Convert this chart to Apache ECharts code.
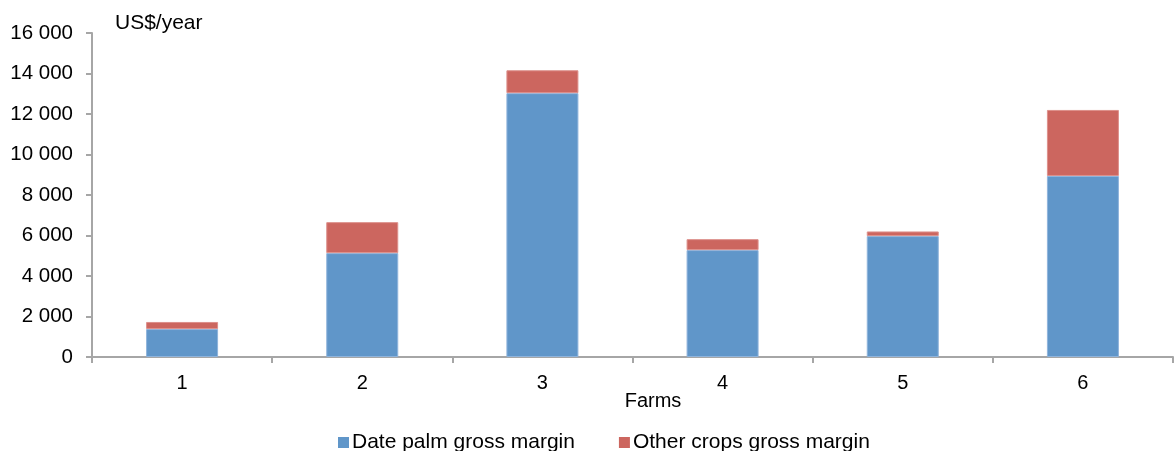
<!DOCTYPE html>
<html>
<head>
<meta charset="utf-8">
<script src="https://cdn.jsdelivr.net/npm/echarts@6/dist/echarts.min.js"></script>
<style>
  html, body { margin: 0; padding: 0; background: #fff; }
  #chart { width: 1175px; height: 451px; }
</style>
</head>
<body>
<div id="chart"></div>
<script>
const farms = ['1', '2', '3', '4', '5', '6'];
const datePalm = [1380, 5130, 13030, 5280, 5970, 8940];
const otherCrops = [350, 1530, 1130, 540, 230, 3260];
const yTicks = { min: 0, max: 16000, interval: 2000 };

const chart = echarts.init(document.getElementById('chart'));
const font = 'Liberation Sans, Arial, sans-serif';
const axisGrey = '#a6a6a6';
// thousands with a space, like the original
const fmt = (v) => String(v).replace(/\B(?=(\d{3})+(?!\d))/g, ' ');

chart.setOption({
  animation: false,
  textStyle: { fontFamily: font, color: '#000' },
  title: {
    text: 'US$/year',
    left: 110, top: 8,
    textStyle: { fontFamily: font, fontSize: 21, fontWeight: 'normal', color: '#000' }
  },
  // axis title sits a bit right of the plot centre in the original
  graphic: [{
    type: 'text', x: 653, y: 401,
    style: { text: 'Farms', font: '20px ' + font, fill: '#000', align: 'center', verticalAlign: 'middle' }
  }],
  grid: { left: 92, right: 2, top: 33, bottom: 94 },
  legend: {
    data: ['Date palm gross margin', 'Other crops gross margin'],
    left: 333, top: 427,
    itemWidth: 11, itemHeight: 11, itemGap: 44,
    icon: 'rect',
    itemStyle: { borderWidth: 0 },
    textStyle: { fontFamily: font, fontSize: 21, color: '#000', padding: [0, 0, 0, -2] }
  },
  xAxis: {
    type: 'category',
    data: farms,
    axisLine: { lineStyle: { color: axisGrey, width: 2 } },
    axisTick: { show: true, length: 6, lineStyle: { color: axisGrey, width: 2 } },
    axisLabel: { fontFamily: font, fontSize: 20, color: '#000', margin: 16 }
  },
  yAxis: {
    type: 'value',
    min: yTicks.min, max: yTicks.max, interval: yTicks.interval,
    splitLine: { show: false },
    axisLine: { show: true, lineStyle: { color: axisGrey, width: 2 } },
    axisTick: { show: true, length: 6, lineStyle: { color: axisGrey, width: 2 } },
    axisLabel: { fontFamily: font, fontSize: 20.5, color: '#000', margin: 19, formatter: fmt }
  },
  series: [
    {
      name: 'Date palm gross margin',
      type: 'bar', stack: 'gm', barWidth: 72,
      itemStyle: { color: '#6096c9', borderColor: '#8fb4dc', borderWidth: 1 },
      data: datePalm
    },
    {
      name: 'Other crops gross margin',
      type: 'bar', stack: 'gm', barWidth: 72,
      itemStyle: { color: '#cc665f', borderColor: '#dd908b', borderWidth: 1 },
      data: otherCrops
    }
  ]
});
</script>
</body>
</html>
